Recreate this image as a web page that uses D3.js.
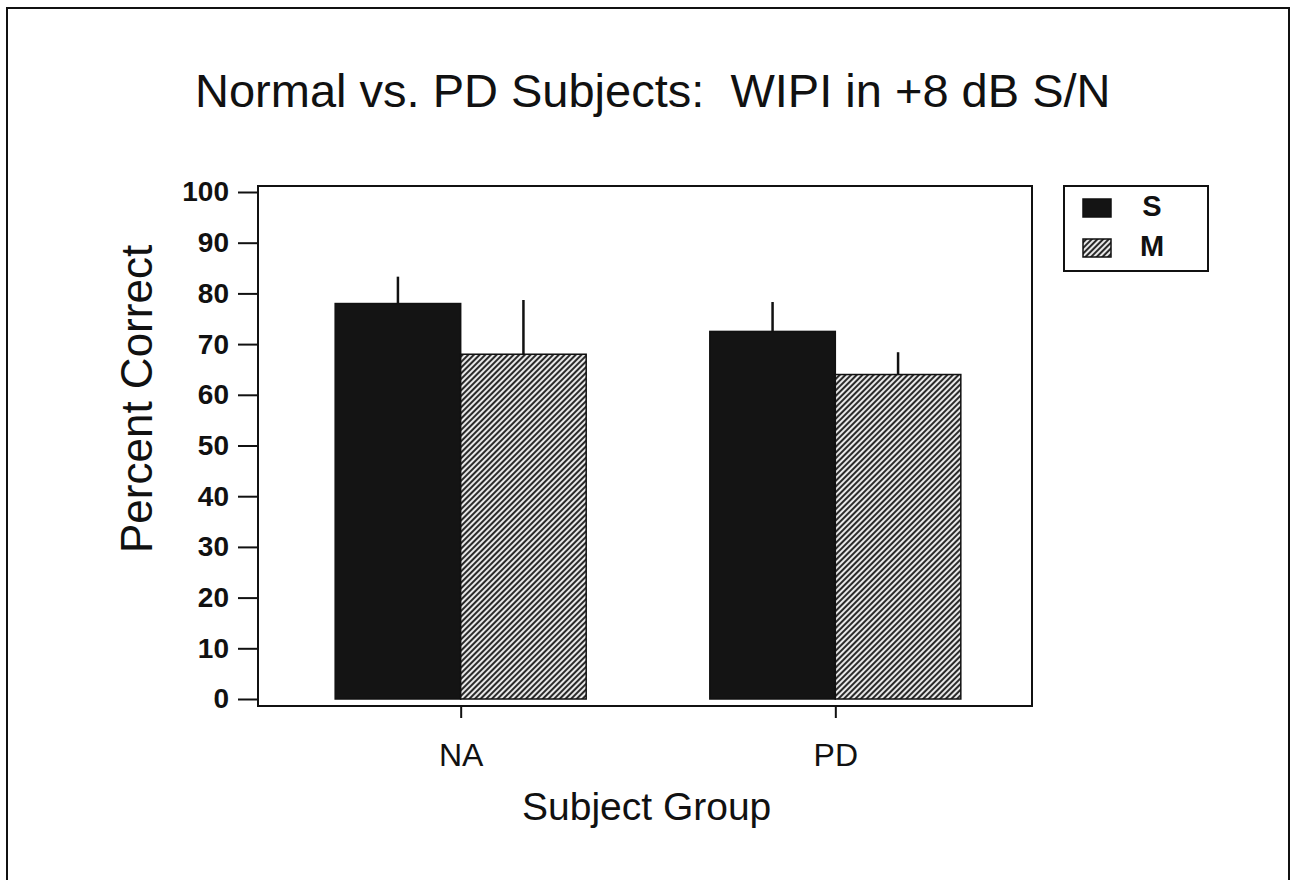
<!DOCTYPE html>
<html>
<head>
<meta charset="utf-8">
<script src="https://cdn.jsdelivr.net/npm/d3@7"></script>
<style>
  body { margin: 0; background: #fff; }
  svg { display: block; }
  text { font-family: "Liberation Sans", Arial, sans-serif; fill: #111; }
</style>
</head>
<body>
<script>
// values
var groups = ['NA', 'PD'];
var series = ['S', 'M'];
var sValues = [78, 72.5];
var mValues = [68, 64];
var sErrTop = [83.3, 78.3];
var mErrTop = [78.7, 68.4];
var yTicks = [0, 10, 20, 30, 40, 50, 60, 70, 80, 90, 100];

var W = 1296, H = 880;
var plotL = 258, plotR = 1032, plotT = 186, plotB = 706;

var svg = d3.select('body').append('svg')
  .attr('width', W)
  .attr('height', H);

var defs = svg.append('defs');
var pat = defs.append('pattern')
  .attr('id', 'hatch')
  .attr('patternUnits', 'userSpaceOnUse')
  .attr('width', 4)
  .attr('height', 4)
  .attr('patternTransform', 'rotate(45)');
pat.append('rect').attr('width', 4).attr('height', 4).attr('fill', '#e8e8e8');
pat.append('rect').attr('width', 2).attr('height', 4).attr('fill', '#2a2a2a');

// page border
svg.append('rect')
  .attr('x', 7).attr('y', 8)
  .attr('width', 1282).attr('height', 900)
  .attr('fill', 'none')
  .attr('stroke', '#111')
  .attr('stroke-width', 2);

var y = d3.scaleLinear().domain([0, 100]).range([699, 192]);

var x0 = d3.scaleBand()
  .domain(groups)
  .range([plotL + 6, plotR])
  .paddingInner(0.33)
  .paddingOuter(0.19);

var x1 = d3.scaleBand()
  .domain(series)
  .range([0, x0.bandwidth()]);

// title
svg.append('text')
  .attr('x', 195)
  .attr('y', 107)
  .attr('xml:space', 'preserve')
  .style('font-size', '47px')
  .text('Normal vs. PD Subjects:  WIPI in +8 dB S/N');

var data = groups.map(function(g, i) {
  return [
    { g: g, s: 'S', v: sValues[i], e: sErrTop[i] },
    { g: g, s: 'M', v: mValues[i], e: mErrTop[i] }
  ];
});

var gg = svg.selectAll('.grp')
  .data(data)
  .enter().append('g')
  .attr('class', 'grp')
  .attr('transform', function(d) { return 'translate(' + x0(d[0].g) + ',0)'; });

gg.selectAll('rect')
  .data(function(d) { return d; })
  .enter().append('rect')
  .attr('x', function(d) { return x1(d.s); })
  .attr('y', function(d) { return y(d.v); })
  .attr('width', x1.bandwidth())
  .attr('height', function(d) { return y(0) - y(d.v); })
  .attr('fill', function(d) { return d.s === 'S' ? '#141414' : 'url(#hatch)'; })
  .attr('stroke', '#111')
  .attr('stroke-width', 1.5);

gg.selectAll('line.err')
  .data(function(d) { return d; })
  .enter().append('line')
  .attr('class', 'err')
  .attr('x1', function(d) { return x1(d.s) + x1.bandwidth() / 2; })
  .attr('x2', function(d) { return x1(d.s) + x1.bandwidth() / 2; })
  .attr('y1', function(d) { return y(d.v); })
  .attr('y2', function(d) { return y(d.e); })
  .attr('stroke', '#111')
  .attr('stroke-width', 2.5);

// plot frame
svg.append('rect')
  .attr('x', plotL).attr('y', plotT)
  .attr('width', plotR - plotL).attr('height', plotB - plotT)
  .attr('fill', 'none')
  .attr('stroke', '#111')
  .attr('stroke-width', 2);

// y axis
var yAxis = d3.axisLeft(y)
  .tickValues(yTicks)
  .tickSize(20)
  .tickPadding(9);
var ya = svg.append('g')
  .attr('transform', 'translate(' + plotL + ',0)')
  .call(yAxis);
ya.select('.domain').remove();
ya.selectAll('line').attr('stroke', '#111').attr('stroke-width', 2);
ya.selectAll('text')
  .style('font-size', '28px')
  .style('font-weight', 'bold')
  .attr('fill', '#111');

// x axis
var xAxis = d3.axisBottom(d3.scalePoint()
    .domain(groups)
    .range([x0('NA') + x0.bandwidth() / 2, x0('PD') + x0.bandwidth() / 2]))
  .tickSize(12)
  .tickPadding(25);
var xa = svg.append('g')
  .attr('transform', 'translate(0,' + plotB + ')')
  .call(xAxis);
xa.select('.domain').remove();
xa.selectAll('line').attr('stroke', '#111').attr('stroke-width', 2);
xa.selectAll('text')
  .style('font-size', '32px')
  .attr('fill', '#111');

// axis titles
svg.append('text')
  .attr('transform', 'translate(152,553) rotate(-90)')
  .style('font-size', '44px')
  .text('Percent Correct');

svg.append('text')
  .attr('x', 522)
  .attr('y', 820)
  .style('font-size', '39px')
  .text('Subject Group');

// legend
var lg = svg.append('g').attr('transform', 'translate(1064,186)');
lg.append('rect')
  .attr('width', 144).attr('height', 85)
  .attr('fill', '#fff')
  .attr('stroke', '#111')
  .attr('stroke-width', 2);
var li = lg.selectAll('.li')
  .data(series)
  .enter().append('g')
  .attr('class', 'li')
  .attr('transform', function(d, i) { return 'translate(0,' + (i * 40) + ')'; });
li.append('rect')
  .attr('x', 19).attr('y', 13)
  .attr('width', 28).attr('height', 18)
  .attr('fill', function(d) { return d === 'S' ? '#141414' : 'url(#hatch)'; })
  .attr('stroke', '#111')
  .attr('stroke-width', 1.5);
li.append('text')
  .attr('x', 88).attr('y', 30)
  .attr('text-anchor', 'middle')
  .style('font-size', '29px')
  .style('font-weight', 'bold')
  .text(function(d) { return d; });
</script>
</body>
</html>
